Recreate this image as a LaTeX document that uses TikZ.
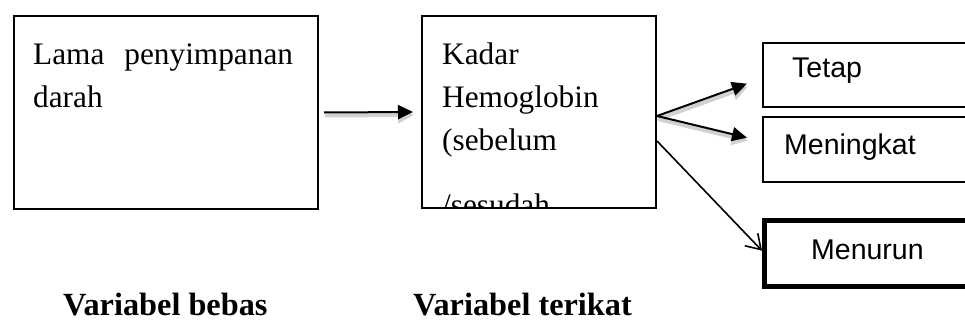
\documentclass[tikz,border=0pt]{standalone}
\usepackage{fontspec}
\setmainfont{Liberation Serif}
\newfontfamily\arialfont{Liberation Sans}
\usetikzlibrary{arrows.meta}
\tikzset{
  box/.style={draw=black, line width=2pt, rectangle, inner sep=0pt, anchor=north west},
  openbox/.style={rectangle, inner sep=0pt, anchor=north west},
  side/.style={line width=2pt, line join=miter},
  thickside/.style={line width=5pt, line join=miter},
  serif/.style={inner sep=0pt, anchor=base west, font=\fontsize{31.3}{43}\selectfont},
  sans/.style={inner sep=0pt, anchor=base west, font=\arialfont\fontsize{28.5}{34}\selectfont},
  boldlabel/.style={inner sep=0pt, anchor=base west, font=\fontsize{32.3}{43}\selectfont\bfseries},
  arr/.style={line width=2pt, -{Triangle[length=15pt,width=14pt]}},
  shadowarr/.style={line width=4pt, draw=black!18, -{Triangle[length=16pt,width=16pt]}},
  openarr/.style={line width=1.6pt, -{Straight Barb[length=14pt,width=18pt,line width=1.6pt]}}
}
\begin{document}
\begin{tikzpicture}[x=1pt,y=-1pt]
\useasboundingbox (0,0) rectangle (965,323);
% boxes
\node[box, minimum width=304pt, minimum height=193pt] (lbox) at (13,15) {};
\node[box, minimum width=234pt, minimum height=192pt] (mbox) at (421,15) {};
\node[openbox, minimum width=206pt, minimum height=64pt] (tetap) at (763,43) {};
\node[openbox, minimum width=206pt, minimum height=65pt] (meningkat) at (763,117) {};
\node[openbox, minimum width=206pt, minimum height=66pt] (menurun) at (764.5,220.5) {};
\draw[side] (tetap.north east) -- (tetap.north west) -- (tetap.south west) -- (tetap.south east);
\draw[side] (meningkat.north east) -- (meningkat.north west) -- (meningkat.south west) -- (meningkat.south east);
\draw[thickside] (menurun.north east) -- (menurun.north west) -- (menurun.south west) -- (menurun.south east);
% texts left
\node[serif] (t1) at (33,65) {Lama\hspace{20pt}penyimpanan};
\node[serif] (t2) at (33,108) {darah};
% texts middle
\node[serif] (t3) at (442,65) {Kadar};
\node[serif] (t4) at (442,108) {Hemoglobin};
\node[serif] (t5) at (442,150) {(sebelum};
\begin{scope}
\clip (421,15) rectangle (655,206);
\node[serif] (t6) at (442,215) {/sesudah};
\end{scope}
% texts right
\node[sans] (t7) at (792,78) {Tetap};
\node[sans] (t8) at (784,154) {Meningkat};
\node[sans] (t9) at (811,259) {Menurun};
% bottom labels
\node[boldlabel] (vb) at (63,315) {Variabel bebas};
\node[boldlabel] (vt) at (413,315) {Variabel terikat};
% shadows
\draw[shadowarr, transform canvas={xshift=1pt,yshift=-3pt}] ([xshift=5pt]lbox.east) -- ([xshift=-8pt]mbox.west);
\draw[shadowarr, transform canvas={xshift=1pt,yshift=-3pt}] ([yshift=-4pt]mbox.east) -- ([xshift=-16pt,yshift=-8.5pt]tetap.west);
\draw[shadowarr, transform canvas={xshift=1pt,yshift=-3pt}] ([yshift=-4pt]mbox.east) -- ([xshift=-16pt,yshift=12pt]meningkat.west);
% arrows
\draw[arr] ([xshift=5pt]lbox.east) -- ([xshift=-8pt]mbox.west);
\draw[arr] ([yshift=-4pt]mbox.east) -- ([xshift=-16pt,yshift=-8.5pt]tetap.west);
\draw[arr] ([yshift=-4pt]mbox.east) -- ([xshift=-16pt,yshift=12pt]meningkat.west);
\draw[openarr] ([yshift=-29pt]mbox.east) -- ([xshift=-2.5pt,yshift=3pt]menurun.west);
\end{tikzpicture}
\end{document}
